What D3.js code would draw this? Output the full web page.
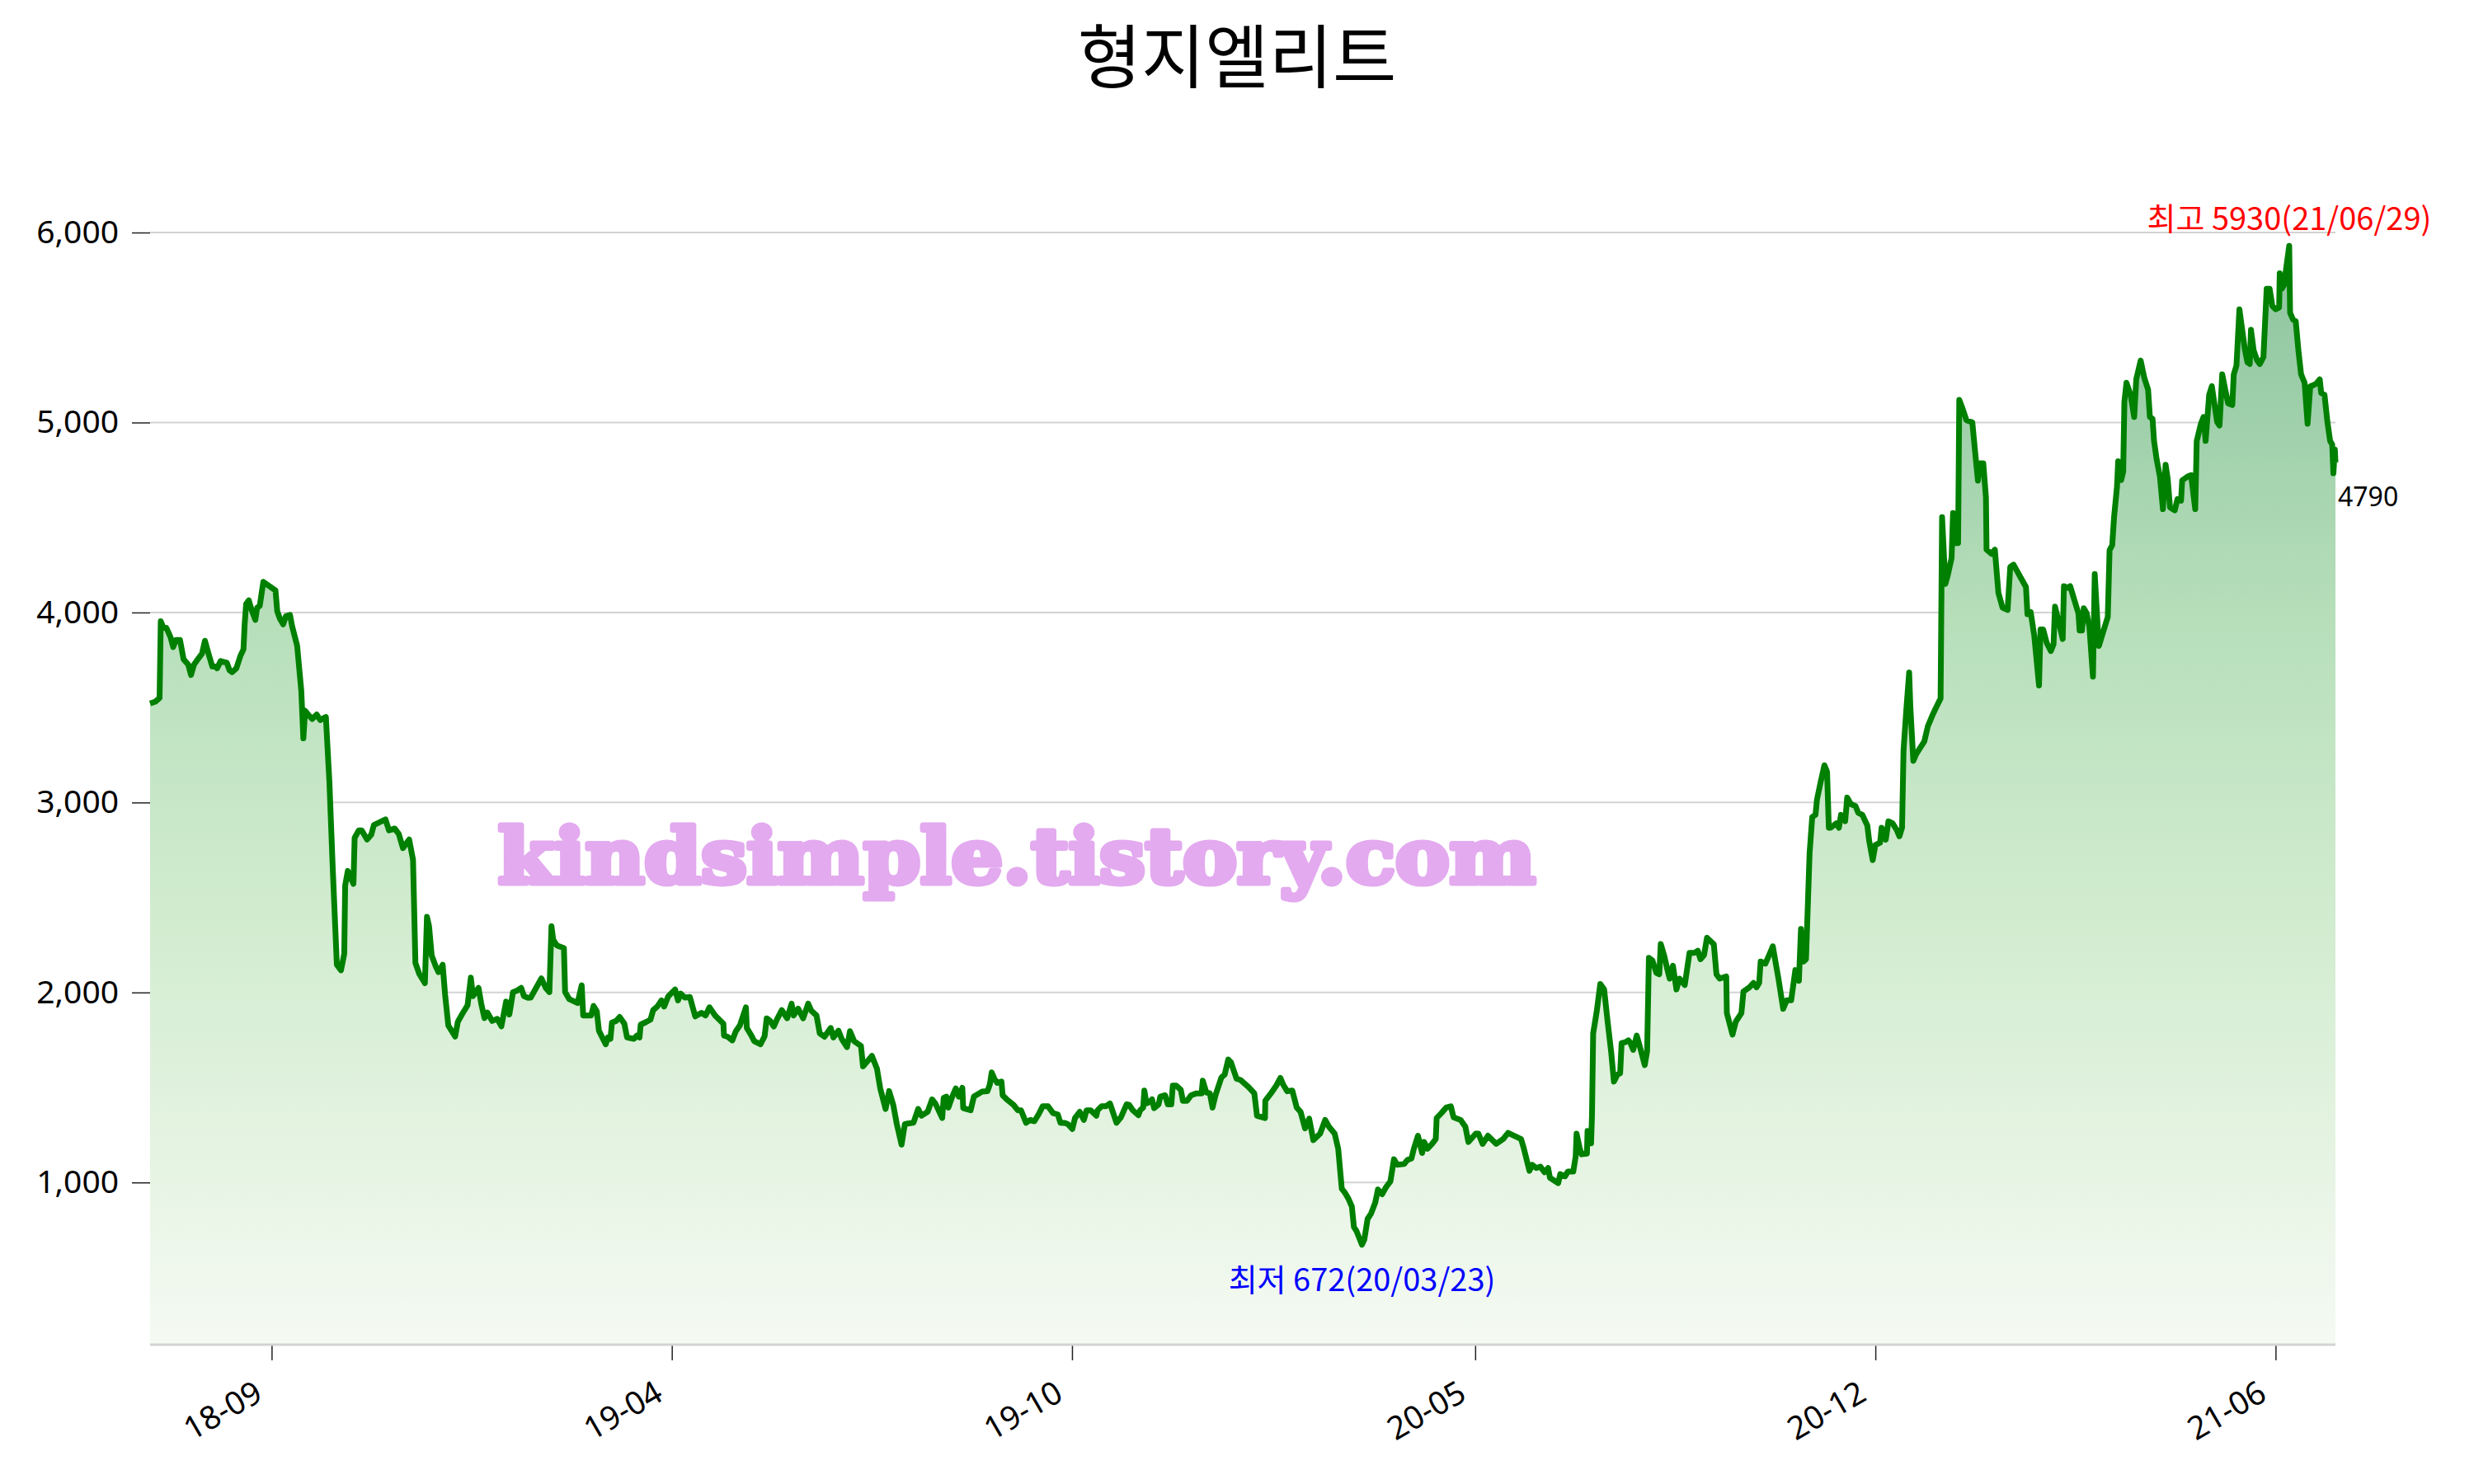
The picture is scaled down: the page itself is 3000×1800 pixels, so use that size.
<!DOCTYPE html>
<html>
<head>
<meta charset="utf-8">
<script src="https://cdn.jsdelivr.net/npm/d3@7"></script>
<style>
body { margin: 0; background: #fff; }
</style>
</head>
<body>
<svg id="chart"></svg>
<script>
// trading-day position of each traced vertex, and the close at that point
var day = [0,1.8,3.2,3.6,4.5,5.5,6.9,7.8,8.7,10.1,11.3,12.9,13.8,14.8,16.1,17.5,18.5,19.9,21.0,22.2,22.6,23.8,25.9,26.8,27.7,29.1,30.5,31.5,31.9,32.4,33.3,34.2,35.5,36.1,37.0,38.2,40.3,42.3,42.9,43.8,44.9,45.8,47.2,47.9,49.6,51.0,51.7,52.3,53.3,54.7,56.2,57.4,59.3,60.5,61.6,63.0,64.4,65.5,65.8,66.7,68.6,69.0,70.4,71.4,73.2,74.6,75.5,77.4,79.4,80.6,82.5,83.9,85.3,87.4,88.7,89.5,90.8,92.7,93.4,94.1,95.0,96.4,97.3,98.7,99.5,100.6,102.9,103.8,105.2,107.1,108.2,108.9,110.8,111.7,112.8,113.8,115.4,117.1,118.5,120.1,121.2,122.4,123.8,125.2,126.1,127.5,
  128.4,132.0,133.5,134.7,135.4,136.0,137.2,139.6,140.0,141.4,144.2,145.6,146.1,148.8,149.6,150.7,151.4,153.7,154.4,155.3,155.8,157.2,158.4,160.0,160.9,163.2,164.2,165.1,165.5,167.4,168.8,169.7,171.1,172.5,173.4,174.8,177.1,178.1,179.0,180.4,182.1,183.9,186.0,187.4,188.7,190.6,193.4,193.6,194.8,196.4,197.6,199.0,201.0,201.3,202.7,203.8,205.9,207.3,208.0,209.2,210.4,211.5,213.1,214.9,216.4,217.1,218.6,220.3,222.0,223.1,224.8,225.9,227.5,229.6,230.5,232.2,233.3,235.1,236.1,237.5,239.8,240.5,242.1,243.5,245.2,246.3,248.1,249.3,250.7,251.9,253.5,254.6,255.6,
  257.5,259.1,260.2,262.3,263.8,264.9,267.2,267.7,268.6,269.3,270.6,271.8,272.8,274.0,274.3,276.8,277.9,280.7,282.5,283.3,283.9,284.8,285.8,287.2,287.6,289.0,291.3,292.7,293.8,295.5,296.9,298.3,299.7,301.1,302.9,304.6,306.2,307.1,308.5,309.6,311.1,312.0,313.6,315.0,315.9,317.3,319.2,319.6,321.0,322.4,323.8,326.0,327.5,329.4,330.3,331.5,333.4,334.0,335.0,335.4,336.1,337.1,338.0,338.7,340.2,340.8,342.4,343.3,344.5,345.0,346.1,347.7,348.4,349.8,351.2,353.0,354.7,355.1,356.3,357.5,358.4,359.4,361.4,362.5,363.7,364.6,366.5,367.9,370.5,372.5,373.4,376.1,376.2,378.1,379.9,381.3,382.3,383.6,
  385.3,386.8,388.1,389.6,391.0,392.4,394.7,396.4,397.7,399.6,400.8,402.0,403.1,404.2,405.4,406.1,407.0,408.8,409.6,410.7,411.9,413.3,414.2,415.6,417.0,418.4,419.6,420.7,423.0,424.2,425.5,426.3,427.7,429.1,429.8,430.9,432.6,433.7,434.0,435.6,437.2,438.8,439.7,442.1,443.7,444.7,447.2,448.1,449.5,451.3,454.1,456.4,458.1,459.7,462.5,463.4,465.3,466.2,467.6,469.0,470.4,471.6,472.2,475.0,475.7,477.3,478.3,480.1,480.9,481.2,482.2,482.9,484.7,484.9,485.7,486.1,486.4,486.8,488.0,489.2,490.5,491.7,492.9,493.8,495.0,495.9,496.4,497.6,498.7,499.4,500.3,501.5,502.6,504.2,505.0,505.6,506.8,508.1,509.1,509.6,510.7,511.7,
  512.6,513.7,514.9,515.9,517.7,519.3,521.0,522.1,523.0,524.2,525.2,527.5,528.4,529.5,531.7,531.9,533.8,534.9,536.8,537.5,539.5,540.9,541.9,542.8,543.3,544.9,546.5,547.4,549.3,550.9,552.1,553.6,555.0,556.2,556.9,557.8,558.6,559.8,560.7,561.8,562.3,563.5,564.8,565.7,566.3,566.9,568.8,569.7,570.4,571.8,572.5,573.7,575.3,576.2,577.6,579.3,579.9,581.1,582.0,583.6,584.1,585.5,586.4,587.8,589.2,590.1,591.0,591.5,592.4,593.4,593.8,594.8,595.7,597.1,598.5,599.7,601.2,602.2,604.0,604.5,605.6,606.4,607.7,608.2,609.1,609.9,610.3,611.5,612.7,614.7,615.6,616.6,617.3,618.4,619.3,619.5,621.2,622.3,623.5,624.9,626.6,627.5,628.6,631.0,632.8,633.3,634.4,635.6,637.2,637.7,638.6,639.8,
  641.2,642.1,642.6,644.0,645.2,645.6,646.8,647.7,649.1,650.5,650.9,651.7,652.3,653.3,654.2,655.4,656.0,657.0,657.4,658.8,660.4,661.0,661.9,662.5,663.5,663.9,664.4,664.9,665.6,666.0,666.7,668.1,669.3,670.0,671.5,672.7,674.0,674.6,675.5,676.0,676.9,678.0,679.0,679.9,680.6,681.4,683.0,683.9,685.1,685.5,687.6,688.5,689.9,690.4,691.8,692.7,693.4,694.6,695.5,696.6,697.3,698.1,699.0,699.9,701.0,702.4,702.9,703.8,704.8,705.9,706.6,707.5,708.3,708.7,709.6,710.8,711.7,712.9,714.0,715.0,715.9,717.0,718.2,718.4,719.1,719.8,720.5,721.6,721.9,722.9,723.8,724.7,725.6,726.8,727.8,728.7,729.8,730.7,731.9,732.4,733.5,734.5,735.4,736.1,736.5,737.0,737.2];

var close = [3521,3531,3550,3954,3919,3919,3870,3818,3855,3855,3754,3725,3671,3725,3754,3783,3851,3773,3715,3715,3706,3744,3735,3696,3686,3706,3773,3806,3938,4045,4064,4016,3961,4025,4035,4161,4138,4116,4006,3967,3938,3981,3987,3929,3826,3589,3338,3483,3463,3440,3463,3434,3450,3105,2659,2146,2117,2204,2563,2640,2572,2814,2853,2853,2805,2830,2882,2896,2911,2853,2863,2834,2760,2805,2698,2156,2098,2049,2398,2349,2194,2136,2107,2146,1991,1826,1768,1845,1884,1933,2078,1981,2024,1942,1865,1894,1850,1861,1822,1952,1884,2001,2010,2024,1981,1972,
  1973,2074,2023,2002,2349,2277,2248,2233,2002,1965,1944,2038,1879,1879,1929,1900,1799,1727,1763,1756,1842,1850,1871,1835,1763,1756,1773,1763,1831,1845,1857,1907,1926,1958,1926,1980,2016,1958,1994,1973,1976,1874,1893,1879,1922,1879,1835,1773,1767,1748,1796,1828,1922,1813,1777,1744,1727,1770,1864,1850,1821,1860,1907,1864,1941,1879,1915,1864,1941,1903,1879,1785,1767,1813,1763,1799,1756,1712,1796,1744,1719,1611,1640,1666,1599,1495,1387,1481,1408,1307,1199,1307,1310,
  1314,1387,1351,1372,1437,1416,1339,1445,1452,1394,1452,1495,1452,1498,1391,1380,1452,1478,1481,1517,1579,1546,1524,1531,1459,1437,1408,1380,1380,1314,1329,1322,1358,1401,1401,1365,1358,1314,1314,1307,1281,1339,1372,1329,1380,1380,1351,1380,1401,1401,1416,1314,1343,1411,1408,1380,1354,1380,1394,1484,1416,1423,1437,1391,1411,1452,1459,1411,1411,1510,1510,1488,1430,1430,1459,1469,1469,1536,1474,1469,1394,1459,1553,1568,1647,1633,1546,1539,1503,1469,1351,1339,1430,1469,1510,1550,1513,1480,
  1484,1394,1372,1285,1336,1223,1257,1329,1293,1257,1177,967,945,916,873,765,743,672,699,808,837,895,963,938,977,1006,1122,1093,1097,1119,1126,1177,1246,1155,1213,1177,1206,1228,1339,1365,1394,1401,1343,1329,1293,1213,1257,1257,1203,1246,1203,1228,1261,1249,1228,1180,1061,1093,1076,1083,1054,1076,1025,996,1044,1032,1058,1058,1137,1257,1184,1148,1152,1271,1264,1206,1351,1785,1900,2045,2016,1843,1683,1531,1568,1575,1734,1738,1748,1734,1698,1773,1712,1618,1691,2182,2168,2103,2096,2255,2197,2130,
  2073,2141,2016,2073,2039,2209,2209,2220,2175,2197,2288,2254,2095,2073,2084,1891,1778,1846,1891,2005,2027,2050,2027,2050,2163,2152,2209,2243,2073,1914,1959,1959,2118,2061,2334,2163,2175,2731,2924,2935,3015,3105,3196,3162,2867,2867,2890,2867,2935,2901,3026,2992,2981,2946,2935,2878,2799,2697,2776,2788,2867,2804,2901,2890,2856,2822,2867,3276,3480,3684,3503,3219,3253,3287,3321,3401,3457,3491,3548,4502,4150,4195,4286,4524,4365,4365,5119,5069,5012,5001,4853,4694,4785,4785,4604,4331,4309,4331,4104,4025,4013,4240,4252,4184,4134,3991,4002,3877,3616,3911,3911,3840,
  3797,3833,4031,3941,3860,4139,4130,4139,4067,3995,3905,3905,4022,3995,3923,3662,4202,3923,3824,3896,3977,4328,4355,4499,4661,4796,4787,4697,4742,5110,5209,5146,5029,5227,5326,5236,5173,5029,5020,4903,4804,4714,4544,4778,4706,4553,4538,4597,4588,4696,4718,4723,4544,4903,4993,5029,4903,5146,5191,5074,5002,4984,5254,5182,5101,5092,5254,5299,5596,5470,5389,5317,5308,5488,5380,5326,5308,5344,5704,5704,5614,5596,5605,5785,5704,5722,5803,5930,5578,5542,5533,5380,5254,5209,4993,5191,5197,5204,5227,5155,5146,5002,4903,4885,4733,4858,4790];

var yTicks = [1000, 2000, 3000, 4000, 5000, 6000];
var tickDay = [41, 176, 311, 447, 582, 717];
var tickLabel = ["18-09", "19-04", "19-10", "20-05", "20-12", "21-06"];

var title = "형지엘리트";
var highDate = "21/06/29";
var lowDate = "20/03/23";
var watermark = "kindsimple.tistory.com";

var W = 3000, H = 1800;
var plotL = 182, plotR = 2832, plotT = 177, plotB = 1631;

var svg = d3.select("#chart").attr("width", W).attr("height", H);

var hi = d3.max(close), lo = d3.min(close);
var pad = (hi - lo) * 0.1;

var x = d3.scaleLinear().domain([0, d3.max(day)]).range([plotL, plotR]);
var y = d3.scaleLinear().domain([lo - pad, hi + pad]).range([plotB, plotT]);

// vertical gradient under the line
var grad = svg.append("defs").append("linearGradient")
  .attr("id", "fillGrad")
  .attr("gradientUnits", "userSpaceOnUse")
  .attr("x1", 0).attr("x2", 0)
  .attr("y1", plotT).attr("y2", plotB);
[[0, "#86bb9a"], [0.2, "#9bcea8"], [0.4, "#b7dfba"], [0.6, "#cdeacc"], [0.8, "#e1f2de"], [1, "#f5faf3"]]
  .forEach(function(s) {
    grad.append("stop").attr("offset", s[0]).attr("stop-color", s[1]);
  });

// title
svg.append("text")
  .attr("x", W / 2).attr("y", 100)
  .attr("text-anchor", "middle")
  .style("font-family", "'Noto Sans CJK KR'")
  .style("font-size", "84px")
  .text(title);

// grid
svg.append("g").selectAll("line")
  .data(yTicks).enter().append("line")
  .attr("x1", plotL).attr("x2", plotR)
  .attr("y1", d => y(d)).attr("y2", d => y(d))
  .attr("stroke", "#d3d3d3").attr("stroke-width", 2);

var idx = d3.range(close.length);

var area = d3.area()
  .x(i => x(day[i]))
  .y0(plotB)
  .y1(i => y(close[i]));

var line = d3.line()
  .x(i => x(day[i]))
  .y(i => y(close[i]));

svg.append("path").datum(idx)
  .attr("d", area)
  .attr("fill", "url(#fillGrad)");

svg.append("text")
  .attr("x", 604).attr("y", 1071)
  .attr("textLength", 1258)
  .attr("lengthAdjust", "spacingAndGlyphs")
  .style("font-family", "'DejaVu Serif'")
  .style("font-weight", "bold")
  .style("font-size", "92px")
  .attr("fill", "#e3aaef")
  .attr("stroke", "#e3aaef")
  .attr("stroke-width", 7)
  .attr("stroke-linejoin", "round")
  .text(watermark);

svg.append("path").datum(idx)
  .attr("d", line)
  .attr("fill", "none")
  .attr("stroke", "#008000")
  .attr("stroke-width", 7)
  .attr("stroke-linejoin", "round");

// y axis
var yAxis = svg.append("g")
  .attr("transform", "translate(" + plotL + ",0)")
  .call(d3.axisLeft(y).tickValues(yTicks).tickFormat(d3.format(",")).tickSize(22).tickPadding(16));
yAxis.select(".domain").remove();
yAxis.selectAll("line").attr("stroke", "#222").attr("stroke-width", 1.5);
yAxis.selectAll("text")
  .style("font-family", "'Noto Sans'")
  .style("font-size", "39px")
  .attr("fill", "#000");

// x axis
var xAxis = svg.append("g")
  .attr("transform", "translate(0," + plotB + ")")
  .call(d3.axisBottom(x).tickValues(tickDay).tickFormat((d, i) => tickLabel[i]).tickSize(19));
xAxis.select(".domain").remove();
xAxis.selectAll("line").attr("stroke", "#222").attr("stroke-width", 1.5);
xAxis.selectAll("text")
  .attr("x", 0).attr("y", 0).attr("dy", null)
  .attr("text-anchor", "end")
  .attr("transform", "translate(-9,66) rotate(-30)")
  .style("font-family", "'Noto Sans'")
  .style("font-size", "39px")
  .attr("fill", "#000");

svg.append("line")
  .attr("x1", plotL).attr("x2", plotR)
  .attr("y1", plotB).attr("y2", plotB)
  .attr("stroke", "#d3d3d3").attr("stroke-width", 3);

// high / low / last labels
var iHi = close.indexOf(hi), iLo = close.indexOf(lo), iLast = close.length - 1;

svg.append("text")
  .attr("x", x(day[iHi])).attr("y", y(hi) - 19)
  .attr("text-anchor", "middle")
  .attr("fill", "red")
  .style("font-family", "'Noto Sans CJK KR'")
  .style("font-size", "38px")
  .text("최고 " + hi + "(" + highDate + ")");

svg.append("text")
  .attr("x", x(day[iLo])).attr("y", y(lo) + 56)
  .attr("text-anchor", "middle")
  .attr("fill", "blue")
  .style("font-family", "'Noto Sans CJK KR'")
  .style("font-size", "38px")
  .text("최저 " + lo + "(" + lowDate + ")");

svg.append("text")
  .attr("x", x(day[iLast]) + 3).attr("y", y(close[iLast]) + 53)
  .attr("fill", "#000")
  .style("font-family", "'Noto Sans'")
  .style("font-size", "32px")
  .text(close[iLast]);
</script>
</body>
</html>
